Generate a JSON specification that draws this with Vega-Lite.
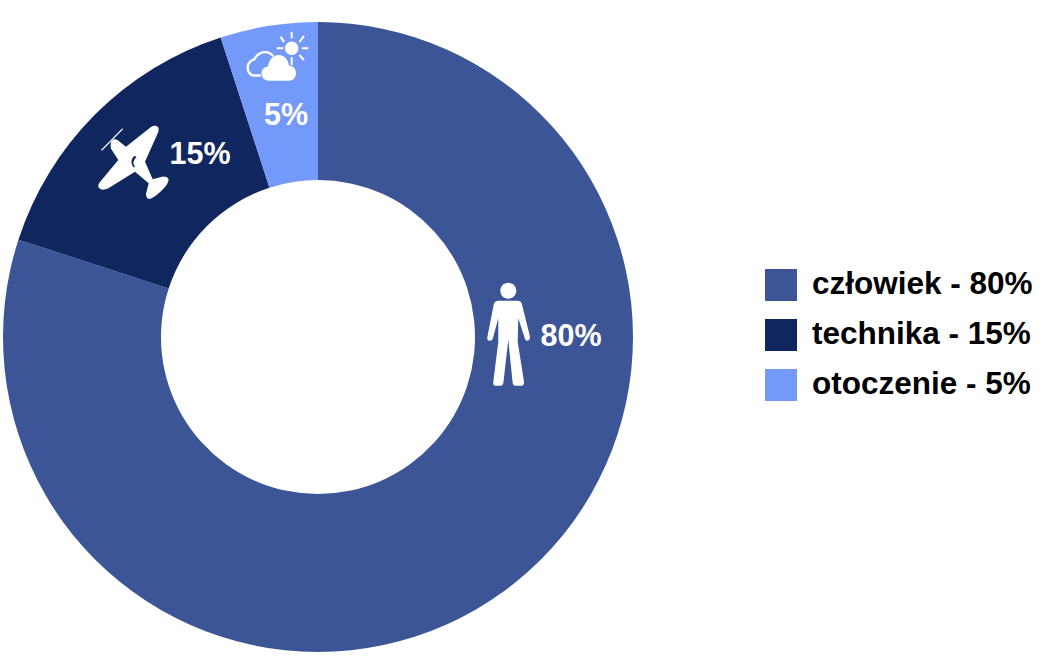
{
  "$schema": "https://vega.github.io/schema/vega-lite/v6.json",
  "width": 1064,
  "height": 656,
  "padding": 0,
  "autosize": {"type": "none"},
  "background": "white",
  "view": {"stroke": null},
  "data": {
    "values": [
      {"czynnik": "człowiek - 80%", "udzial": 80, "etykieta": "80%"},
      {"czynnik": "technika - 15%", "udzial": 15, "etykieta": "15%"},
      {"czynnik": "otoczenie - 5%", "udzial": 5, "etykieta": "5%"}
    ]
  },
  "resolve": {"scale": {"x": "independent", "y": "independent", "theta": "independent"}},
  "layer": [
    {
      "mark": {"type": "arc", "radius": 315, "radius2": 157},
      "encoding": {
        "x": {"value": 318},
        "y": {"value": 337},
        "theta": {"field": "udzial", "type": "quantitative", "stack": true, "scale": {"domain": [0, 100]}},
        "order": {"field": "udzial", "type": "quantitative", "sort": "descending"},
        "color": {
          "field": "czynnik",
          "type": "nominal",
          "scale": {
            "domain": ["człowiek - 80%", "technika - 15%", "otoczenie - 5%"],
            "range": ["#3c5596", "#10265f", "#7399fa"]
          },
          "legend": {
            "orient": "none",
            "legendX": 765,
            "legendY": 269,
            "title": null,
            "padding": 0,
            "symbolType": "square",
            "symbolSize": 1024,
            "symbolStrokeWidth": 0,
            "symbolOpacity": 1,
            "rowPadding": 18,
            "labelOffset": 15,
            "labelFont": "Liberation Sans",
            "labelFontWeight": "bold",
            "labelFontSize": 31.5,
            "labelColor": "#000000",
            "labelLimit": 400
          }
        }
      }
    },
    {
      "mark": {"type": "point", "filled": true, "color": "white", "opacity": 1, "size": 4},
      "encoding": {
        "x": {"field": "udzial", "type": "quantitative", "axis": null, "scale": {"domain": [5, 15, 80], "range": [275, 135, 508], "nice": false, "zero": false}},
        "y": {"field": "udzial", "type": "quantitative", "axis": null, "scale": {"domain": [5, 15, 80], "range": [58, 162, 334], "nice": false, "zero": false}},
        "shape": {
          "field": "etykieta",
          "type": "nominal",
          "legend": null,
          "scale": {
            "domain": ["80%", "15%", "5%"],
            "range": [
              "M-9.7,-33.3L10.3,-33.3Q13,-33 13.7,-30.7L22,2.7Q22,6.7 19,6.7Q17.5,6.7 17,5L10.3,-15.7L9.7,7.7L16,47.7Q16,51.7 13.7,51.7L7,51.7Q5,51.7 4.7,49.3L0.3,6L-4.7,49.3Q-5,51.7 -7,51.7L-13,51.7Q-15,51.7 -14.7,47.7L-9.7,7.7L-9.7,-15.7L-15.3,5Q-16,6.7 -18,6.7Q-21,6.7 -20.7,3.3L-14,-30.7Q-13,-33 -9.7,-33.3ZM-7.7,-43.3A8,8 0 1 1 8.3,-43.3A8,8 0 1 1 -7.7,-43.3Z",
              "M-24.3,-18.7Q-24,-21 -21,-22.7Q-18,-23.5 -15,-20L-9,-15.3L16,-35Q20,-37.5 23,-35Q24.5,-33 23.3,-30L10,-0.3L17.7,17.3L27,14.7Q32,14 33.5,17Q34,20 30,25Q22,34 15,37Q11,37 11,32L13.7,21.3L0,9.7L-27,26.5Q-33,29 -36,26Q-38,23.5 -35,20L-16.7,-2L-24.3,-13.7ZM0,-6.2Q-4,-4 -3.5,1Q-3,4 -0.7,5.5L0,4.7Q-1.5,3 -1.7,0.5Q-1.5,-3 1.5,-4.8ZM-12.7,-33.7L-12,-32.7L-33,-11.3L-34,-12Z",
              "M15.7,-26.3H17.7V-19.7H15.7ZM15.7,-0.7H17.7V7H15.7ZM26.7,-10.7H33.3V-8.7H26.7ZM1.7,-10.7H8.3V-8.7H1.7ZM23.6,-16.7L28.3,-22.7L29.7,-21.3L25,-15.3ZM8,-15.5L4.7,-20.7L6.5,-22L9.9,-16.7ZM25,-3.7L29.7,1.3L28.3,2.7L23.6,-2.3ZM10,-9.7A6.7,6.7 0 1 1 23.4,-9.7A6.7,6.7 0 1 1 10,-9.7ZM-6,22.7C-11,22.7 -13.5,19 -13.5,15.5C-13.5,11.5 -10.5,8.5 -7,8.5C-6,1 -1,-3 3.5,-3C9,-3 13,1 14,7.5C18,7.5 21,11 21,15C21,19.5 18,22.7 14,22.7ZM-14.3,18.7L-21,18.7C-25.5,18.7 -28.5,14 -28.5,9.5C-28.5,5 -25,1 -21.5,0.5C-19,-4.5 -14,-7.5 -9.5,-7C-6,-7 -3,-5 -0.7,-2.5L-2.5,-1C-4.5,-3.5 -7,-4.8 -9.5,-4.8C-13.5,-4.8 -18,-2 -20,2.5C-23.5,3 -26,6 -26,9.5C-26,13 -24,16.3 -21,16.3L-14.3,16.3Z"
            ]
          }
        }
      }
    },
    {
      "mark": {"type": "text", "font": "Liberation Sans", "fontWeight": "bold", "fontSize": 30.5, "color": "white", "align": "center", "baseline": "alphabetic"},
      "encoding": {
        "x": {"field": "udzial", "type": "quantitative", "axis": null, "scale": {"domain": [5, 15, 80], "range": [286, 200, 571], "nice": false, "zero": false}},
        "y": {"field": "udzial", "type": "quantitative", "axis": null, "scale": {"domain": [5, 15, 80], "range": [125, 164, 346], "nice": false, "zero": false}},
        "text": {"field": "etykieta", "type": "nominal"}
      }
    }
  ]
}
